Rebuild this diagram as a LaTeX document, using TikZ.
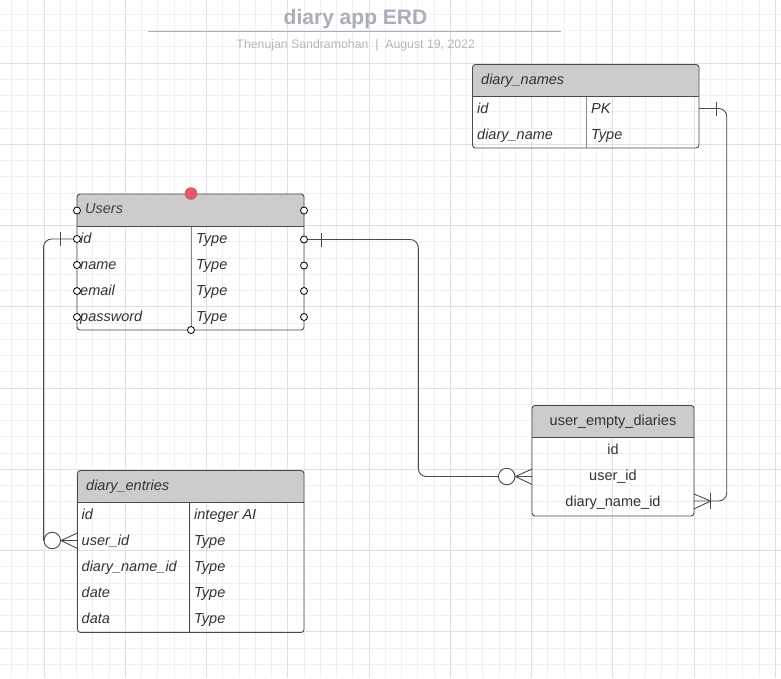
\documentclass[tikz,border=0pt]{standalone}
\usepackage{fontspec}
\setmainfont{Liberation Sans}
\usetikzlibrary{positioning}
\definecolor{gridmin}{HTML}{F0F0F0}
\definecolor{gridmaj}{HTML}{E0E0E0}
\definecolor{hdrgray}{HTML}{CCCCCC}
\definecolor{edgegray}{HTML}{4A4A4A}
\definecolor{divgray}{HTML}{8A8A8A}
\definecolor{txtgray}{HTML}{333333}
\definecolor{titlegray}{HTML}{A9AEB8}
\definecolor{subgray}{HTML}{B3B7BF}
\definecolor{selred}{HTML}{E05A6A}
\tikzset{
	tbl/.style={draw=edgegray, line width=0.9pt, rounded corners=3pt},
	hdrfill/.style={fill=hdrgray},
	fld/.style={anchor=west, inner sep=0pt, text=txtgray, font=\fontsize{14.5}{17}\selectfont\itshape, text height=10.5pt, text depth=0pt},
	plainfld/.style={fld, anchor=center, font=\fontsize{14.5}{17}\selectfont},
	cpoint/.style={circle, draw=black, fill=white, line width=0.8pt, inner sep=0pt, minimum size=7pt},
	ring/.style={circle, draw=edgegray, fill=white, line width=0.9pt, inner sep=0pt, minimum size=16.5pt},
	link/.style={draw=edgegray, line width=0.9pt}
}
\begin{document}
\begin{tikzpicture}[x=1pt,y=-1pt]
		\useasboundingbox[fill=white] (0,0) rectangle (781,678);
		\foreach \k in {0,...,47} \draw[gridmin, line width=0.9pt] (11.5+16.25*\k,0) -- (11.5+16.25*\k,678);
		\foreach \k in {0,...,40} \draw[gridmin, line width=0.9pt] (0,14.25+16.25*\k) -- (781,14.25+16.25*\k);
		\foreach \k in {0,...,9} \draw[gridmaj, line width=0.9pt] (44+81.25*\k,0) -- (44+81.25*\k,678);
		\foreach \k in {0,...,7} \draw[gridmaj, line width=0.9pt] (0,63+81.25*\k) -- (781,63+81.25*\k);

		\node[inner sep=0pt, text=titlegray, font=\fontsize{21}{25}\selectfont\bfseries, text height=15pt, text depth=0pt] (title) at (355.5,16.5) {diary app ERD};
		\draw[titlegray, line width=1.5pt] (148,31.5) -- (561,31.5);
		\node[inner sep=0pt, text=subgray, font=\fontsize{12.3}{15}\selectfont, text height=8.8pt, text depth=0pt] (byline) at (355.7,43.7) {Thenujan Sandramohan\ \ |\ \ August 19, 2022};

		\fill[hdrfill, rounded corners=3pt] (77,194) rectangle (304,226);
		\fill[hdrfill] (77,212) rectangle (304,226);
		\draw[divgray, line width=0.9pt] (191,226) -- (191,330);
		\draw[edgegray, line width=0.9pt] (77,226) -- (304,226);
		\draw[tbl] (77,194) rectangle (304,330);
		\node[fld, text=black!75] (usersHdr) at (85,208.5) {Users};
		\node[fld] (uId) at (80,238.5) {id};
		\node[fld] (uName) at (80,264.5) {name};
		\node[fld] (uEmail) at (80,290.5) {email};
		\node[fld] (uPass) at (80,316.5) {password};
		\node[fld] (uIdT) at (196,238.5) {Type};
		\node[fld] (uNameT) at (196,264.5) {Type};
		\node[fld] (uEmailT) at (196,290.5) {Type};
		\node[fld] (uPassT) at (196,316.5) {Type};

		\fill[hdrfill, rounded corners=3pt] (77.5,470.5) rectangle (304,502.5);
		\fill[hdrfill] (77.5,488) rectangle (304,502.5);
		\draw[edgegray, line width=0.9pt] (189.5,502.5) -- (189.5,632.5);
		\draw[edgegray, line width=0.9pt] (77.5,502.5) -- (304,502.5);
		\draw[tbl] (77.5,470.5) rectangle (304,632.5);
		\node[fld] (entriesHdr) at (86,485) {diary\_entries};
		\node[fld] (eId) at (81.5,514.5) {id};
		\node[fld] (eUser) at (81.5,540.5) {user\_id};
		\node[fld] (eName) at (81.5,566.5) {diary\_name\_id};
		\node[fld] (eDate) at (81.5,592.5) {date};
		\node[fld] (eData) at (81.5,618) {data};
		\node[fld] (eIdT) at (194,514.5) {integer AI};
		\node[fld] (eUserT) at (194,540.5) {Type};
		\node[fld] (eNameT) at (194,566.5) {Type};
		\node[fld] (eDateT) at (194,592.5) {Type};
		\node[fld] (eDataT) at (194,618) {Type};

		\fill[hdrfill, rounded corners=3pt] (472.5,64.5) rectangle (699,96.5);
		\fill[hdrfill] (472.5,82) rectangle (699,96.5);
		\draw[divgray, line width=0.9pt] (586,96.5) -- (586,148);
		\draw[edgegray, line width=0.9pt] (472.5,96.5) -- (699,96.5);
		\draw[tbl] (472.5,64.5) rectangle (699,148);
		\node[fld] (namesHdr) at (481,79.5) {diary\_names};
		\node[fld] (nId) at (477,108.5) {id};
		\node[fld] (nName) at (477,134.5) {diary\_name};
		\node[fld] (nIdT) at (591,108.5) {PK};
		\node[fld] (nNameT) at (591,134.5) {Type};

		\fill[hdrfill, rounded corners=3pt] (532,405.5) rectangle (694,437.5);
		\fill[hdrfill] (532,423) rectangle (694,437.5);
		\draw[edgegray, line width=0.9pt] (532,437.5) -- (694,437.5);
		\draw[tbl] (532,405.5) rectangle (694,516);
		\node[plainfld] (emptyHdr) at (613,420) {user\_empty\_diaries};
		\node[plainfld] (mId) at (613,449) {id};
		\node[plainfld] (mUser) at (613,475) {user\_id};
		\node[plainfld] (mName) at (613,501) {diary\_name\_id};

		\node[cpoint] (uL0) at (77,210.5) {};
		\node[cpoint] (uL1) at (77,239) {};
		\node[cpoint] (uL2) at (77,265) {};
		\node[cpoint] (uL3) at (77,291) {};
		\node[cpoint] (uL4) at (77,317) {};
		\node[cpoint] (uR0) at (304,210.5) {};
		\node[cpoint] (uR1) at (304,239.5) {};
		\node[cpoint] (uR2) at (304,265.5) {};
		\node[cpoint] (uR3) at (304,291) {};
		\node[cpoint] (uR4) at (304,317) {};
		\node[cpoint] (uB) at (191,330) {};
		\node[circle, fill=selred, inner sep=0pt, minimum size=12.6pt] (uTop) at (191,193.5) {};

		\node[ring] (ringA) at (52.3,540.5) {};
		\coordinate (footA) at (77.5,540.5);
		\coordinate (barA) at (60.3,239);
		\draw[link, rounded corners=8pt] (uL1) -| (ringA.west);
		\draw[link] (barA) ++(0,-7) -- ++(0,14);
		\draw[link] (ringA.east) -- ([yshift=7.5pt]footA);
		\draw[link] (ringA.east) -- (footA);
		\draw[link] (ringA.east) -- ([yshift=-8pt]footA);

		\node[ring] (ringB) at (506.7,476.5) {};
		\coordinate (bendB) at (418.3,476.5);
		\coordinate (footB) at (532,476.5);
		\coordinate (barB) at (321.7,239.5);
		\draw[link, rounded corners=8pt] (uR1) -| (bendB) -- (ringB.west);
		\draw[link] (barB) ++(0,-7) -- ++(0,14);
		\draw[link] (ringB.east) -- ([yshift=7.5pt]footB);
		\draw[link] (ringB.east) -- (footB);
		\draw[link] (ringB.east) -- ([yshift=-8pt]footB);

		\coordinate (nR) at (699,108.5);
		\coordinate (bendC) at (726.7,501);
		\coordinate (footC) at (694,501);
		\coordinate (barC) at (716.7,108.5);
		\coordinate (tipC) at (710.7,501);
		\draw[link, rounded corners=8pt] (nR) -| (bendC) -- (footC);
		\draw[link] (barC) ++(0,-7) -- ++(0,14);
		\draw[link] (tipC) ++(0,-8) -- ++(0,16);
		\draw[link] (tipC) -- ([yshift=7pt]footC);
		\draw[link] (tipC) -- ([yshift=-8pt]footC);
\end{tikzpicture}
\end{document}
